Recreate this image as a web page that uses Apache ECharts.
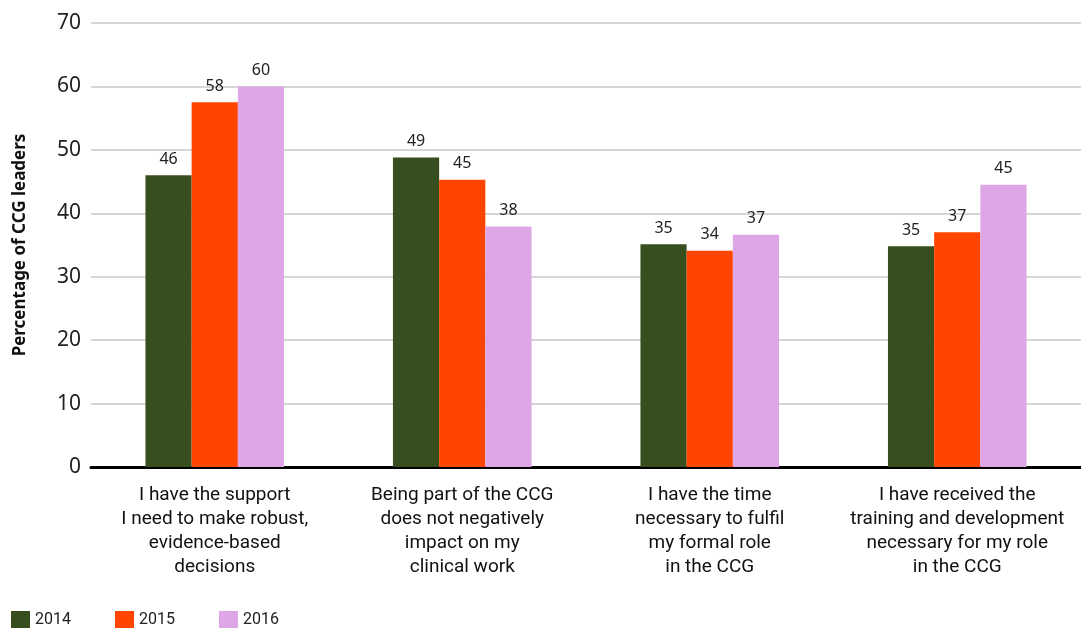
<!DOCTYPE html>
<html><head><meta charset="utf-8">
<script src="https://cdn.jsdelivr.net/npm/echarts@6/dist/echarts.min.js"></script>
<style>html,body{margin:0;padding:0;background:#fff}#c{width:1081px;height:628px}</style>
</head><body><div id="c"></div>
<script>
const categories = [
  "I have the support\nI need to make robust,\nevidence-based\ndecisions",
  "Being part of the CCG\ndoes not negatively\nimpact on my\nclinical work",
  "I have the time\nnecessary to fulfil\nmy formal role\nin the CCG",
  "I have received the\ntraining and development\nnecessary for my role\nin the CCG"
];
const seriesNames = ["2014", "2015", "2016"];
const values2014 = [46.0, 48.8, 35.1, 34.8];
const values2015 = [57.5, 45.3, 34.1, 37.0];
const values2016 = [60.0, 37.9, 36.6, 44.5];
const yTicks = [0, 10, 20, 30, 40, 50, 60, 70];
const colors = ["#374f1e", "#ff4500", "#dea6e6"];

const chart = echarts.init(document.getElementById('c'));
const allValues = [values2014, values2015, values2016];
chart.setOption({
  animation: false,
  color: colors,
  textStyle: {fontFamily: "Noto Sans"},
  legend: {
    left: 11, top: 611, padding: 0, itemWidth: 19, itemHeight: 17, itemGap: 44,
    icon: 'rect',
    textStyle: {fontSize: 16, color: '#222', fontFamily: 'Roboto'},
    data: seriesNames
  },
  grid: {left: 91, right: 0, top: 23, bottom: 161, containLabel: false},
  xAxis: {
    type: 'category', data: categories,
    axisLine: {lineStyle: {color: '#000', width: 3}},
    axisTick: {show: false},
    axisLabel: {interval: 0, fontSize: 19, lineHeight: 24, color: '#111', margin: 16, fontFamily: 'Roboto'}
  },
  yAxis: {
    type: 'value', min: yTicks[0], max: yTicks[yTicks.length - 1], interval: 10,
    name: 'Percentage of CCG leaders', nameLocation: 'middle', nameGap: 62,
    nameTextStyle: {fontSize: 17, fontWeight: 'bold', color: '#111', fontFamily: 'Noto Sans'},
    axisLine: {show: false}, axisTick: {show: false},
    axisLabel: {fontSize: 21, color: '#222', margin: 10, fontFamily: 'Noto Sans'},
    splitLine: {lineStyle: {color: '#c8c8c8', width: 1.5}}
  },
  series: allValues.map((vals, i) => ({
    name: seriesNames[i], type: 'bar', data: vals,
    barGap: '0%', barCategoryGap: '44%',
    label: {show: true, position: 'top', distance: 8, fontSize: 16, color: '#222', fontFamily: 'Noto Sans',
      formatter: p => Math.round(p.value)}
  }))
});
</script></body></html>
